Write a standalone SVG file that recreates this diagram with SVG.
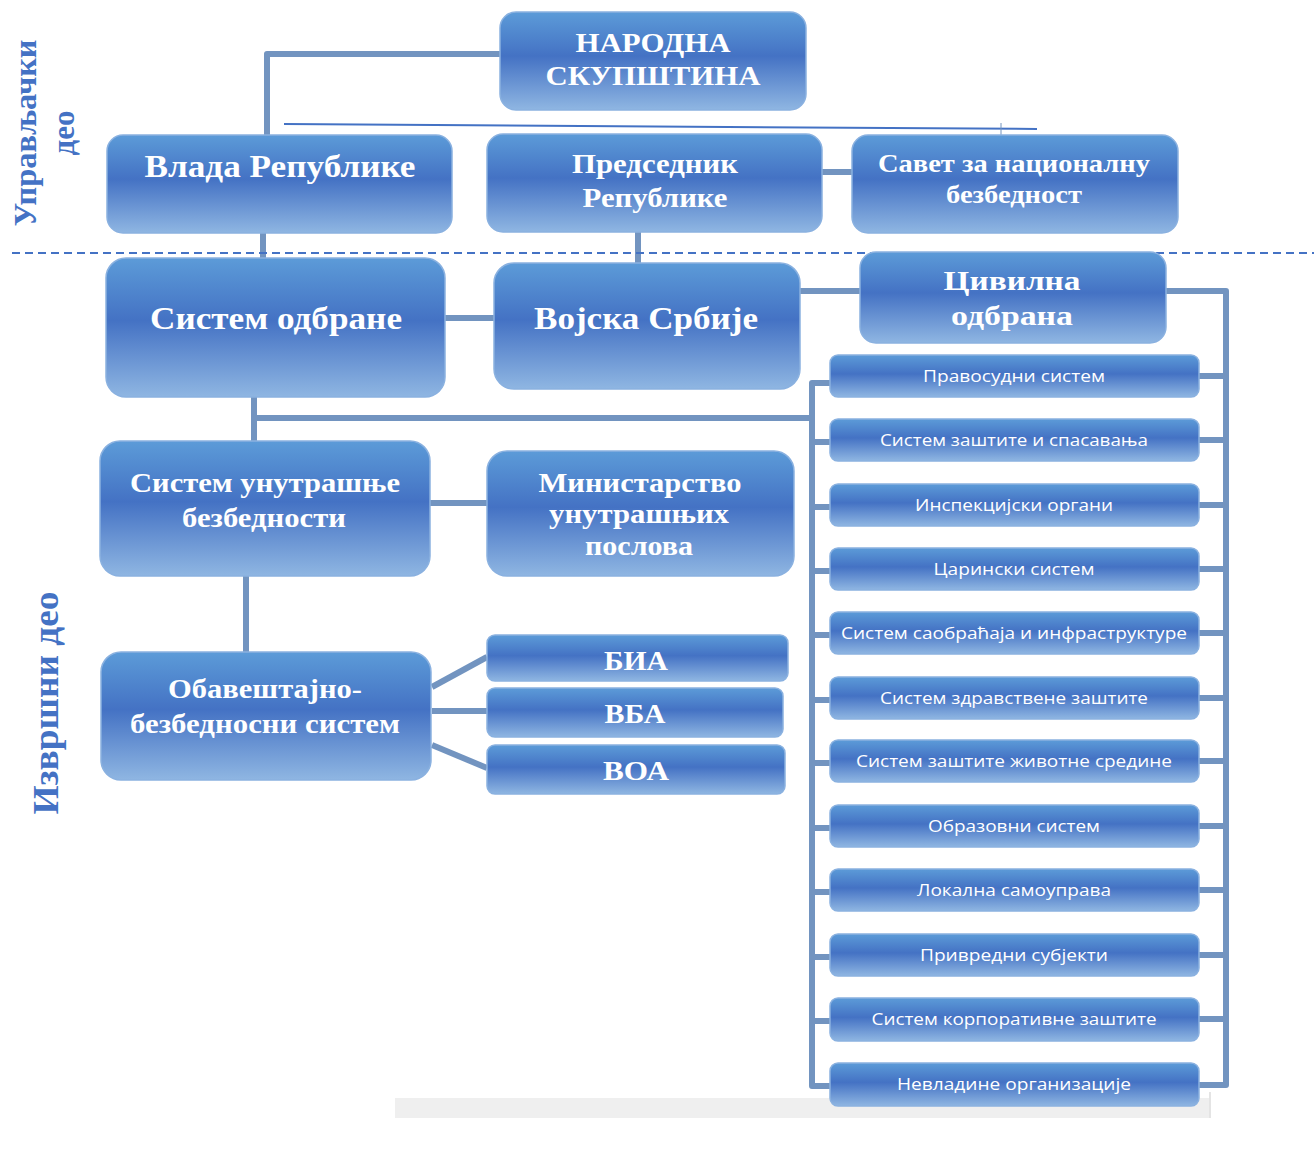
<svg xmlns="http://www.w3.org/2000/svg" width="1314" height="1162" viewBox="0 0 1314 1162">
<defs>
<linearGradient id="g" x1="0" y1="0" x2="0" y2="1">
<stop offset="0" stop-color="#5c9bd8"/>
<stop offset="0.45" stop-color="#4472c4"/>
<stop offset="1" stop-color="#8fb6e2"/>
</linearGradient>
<style>
.box{fill:url(#g);stroke:#8ab1e0;stroke-width:1.5}
.t{font-family:"Liberation Serif",serif;font-weight:bold;fill:#ffffff;text-anchor:middle}
.s{font-family:"Open Sans","Liberation Sans",sans-serif;font-size:17px;fill:#ffffff;text-anchor:middle}
.c{fill:none;stroke:#7294c0;stroke-width:6;stroke-linejoin:round}
.lab{font-family:"Liberation Serif",serif;font-weight:bold;fill:#4472c4;text-anchor:middle}
</style>
</defs>
<rect width="1314" height="1162" fill="#ffffff"/>
<rect x="395" y="1098" width="815" height="20" fill="#efefef"/>
<line x1="1210" y1="1092" x2="1210" y2="1118" stroke="#e4e4e4" stroke-width="2"/>

<g id="connectors">
<path class="c" d="M500,54 H267 V135"/>
<line x1="284" y1="124" x2="1037" y2="129" stroke="#4472c4" stroke-width="2"/>
<line x1="1001" y1="123" x2="1001" y2="135" stroke="#7294c0" stroke-width="1"/>
<path class="c" d="M822,172 H852"/>
<path class="c" d="M263,233 V258"/>
<path class="c" d="M638,232 V263"/>
<line x1="12" y1="253" x2="1314" y2="253" stroke="#4472c4" stroke-width="2" stroke-dasharray="8,5"/>
<path class="c" d="M445,318 H494"/>
<path class="c" d="M800,291 H860"/>
<path class="c" d="M254,397 V441"/>
<path class="c" d="M254,418 H812"/>
<path class="c" d="M830,383 H812 V1086 H830"/>
<path class="c" d="M830,442 H812 M830,507 H812 M830,571 H812 M830,635 H812 M830,700 H812 M830,763 H812 M830,828 H812 M830,892 H812 M830,957 H812 M830,1021 H812"/>
<path class="c" d="M1166,291 H1226 V1085 H1199"/>
<path class="c" d="M1199,376 H1226 M1199,440 H1226 M1199,505 H1226 M1199,569 H1226 M1199,633 H1226 M1199,698 H1226 M1199,761 H1226 M1199,826 H1226 M1199,890 H1226 M1199,955 H1226 M1199,1019 H1226"/>
<path class="c" d="M430,503 H487"/>
<path class="c" d="M246,576 V652"/>
<path class="c" d="M432,687 L487,657"/>
<path class="c" d="M432,711 H487"/>
<path class="c" d="M432,745 L487,768"/>
</g>

<g id="labels">
<text class="lab" font-size="31" transform="translate(36,133) rotate(-90)" textLength="187" lengthAdjust="spacingAndGlyphs">Управљачки</text>
<text class="lab" font-size="31" transform="translate(74,133) rotate(-90)" textLength="45" lengthAdjust="spacingAndGlyphs">део</text>
<text class="lab" font-size="36" transform="translate(58,703) rotate(-90)" textLength="223" lengthAdjust="spacingAndGlyphs">Извршни део</text>
</g>

<g id="n-skupstina">
<rect class="box" x="500" y="12" width="306" height="98" rx="16"/>
<text class="t" font-size="28" x="653" y="52" textLength="155" lengthAdjust="spacingAndGlyphs">НАРОДНА</text>
<text class="t" font-size="28" x="653" y="85" textLength="215" lengthAdjust="spacingAndGlyphs">СКУПШТИНА</text>
</g>
<g id="n-vlada">
<rect class="box" x="107" y="135" width="345" height="98" rx="16"/>
<text class="t" font-size="32" x="280" y="177" textLength="271" lengthAdjust="spacingAndGlyphs">Влада Републике</text>
</g>
<g id="n-predsednik">
<rect class="box" x="487" y="134" width="335" height="98" rx="16"/>
<text class="t" font-size="27" x="655" y="173" textLength="166" lengthAdjust="spacingAndGlyphs">Председник</text>
<text class="t" font-size="27" x="655" y="207" textLength="145" lengthAdjust="spacingAndGlyphs">Републике</text>
</g>
<g id="n-savet">
<rect class="box" x="852" y="135" width="326" height="98" rx="16"/>
<text class="t" font-size="25" x="1014" y="172" textLength="272" lengthAdjust="spacingAndGlyphs">Савет за националну</text>
<text class="t" font-size="25" x="1014" y="203" textLength="136" lengthAdjust="spacingAndGlyphs">безбедност</text>
</g>
<g id="n-sistem-odbrane">
<rect class="box" x="106" y="258" width="339" height="139" rx="20"/>
<text class="t" font-size="32" x="276" y="329" textLength="252" lengthAdjust="spacingAndGlyphs">Систем одбране</text>
</g>
<g id="n-vojska">
<rect class="box" x="494" y="263" width="306" height="126" rx="20"/>
<text class="t" font-size="32" x="646" y="329" textLength="224" lengthAdjust="spacingAndGlyphs">Војска Србије</text>
</g>
<g id="n-civilna">
<rect class="box" x="860" y="252" width="306" height="91" rx="16"/>
<text class="t" font-size="28" x="1012" y="290" textLength="137" lengthAdjust="spacingAndGlyphs">Цивилна</text>
<text class="t" font-size="28" x="1012" y="325" textLength="122" lengthAdjust="spacingAndGlyphs">одбрана</text>
</g>
<g id="n-unutrasnja">
<rect class="box" x="100" y="441" width="330" height="135" rx="20"/>
<text class="t" font-size="28" x="265" y="492" textLength="270" lengthAdjust="spacingAndGlyphs">Систем унутрашње</text>
<text class="t" font-size="28" x="264" y="527" textLength="164" lengthAdjust="spacingAndGlyphs">безбедности</text>
</g>
<g id="n-mup">
<rect class="box" x="487" y="451" width="307" height="125" rx="20"/>
<text class="t" font-size="28" x="640" y="492" textLength="203" lengthAdjust="spacingAndGlyphs">Министарство</text>
<text class="t" font-size="28" x="639" y="523" textLength="180" lengthAdjust="spacingAndGlyphs">унутрашњих</text>
<text class="t" font-size="28" x="639" y="555" textLength="108" lengthAdjust="spacingAndGlyphs">послова</text>
</g>
<g id="n-obavestajno">
<rect class="box" x="101" y="652" width="330" height="128" rx="20"/>
<text class="t" font-size="28" x="265" y="698" textLength="194" lengthAdjust="spacingAndGlyphs">Обавештајно-</text>
<text class="t" font-size="28" x="265" y="733" textLength="270" lengthAdjust="spacingAndGlyphs">безбедносни систем</text>
</g>
<g id="n-bia">
<rect class="box" x="487" y="635" width="301" height="46" rx="8"/>
<text class="t" font-size="27" x="636" y="670" textLength="64" lengthAdjust="spacingAndGlyphs">БИА</text>
</g>
<g id="n-vba">
<rect class="box" x="487" y="688" width="296" height="49" rx="8"/>
<text class="t" font-size="27" x="635" y="723" textLength="61" lengthAdjust="spacingAndGlyphs">ВБА</text>
</g>
<g id="n-voa">
<rect class="box" x="487" y="745" width="298" height="49" rx="8"/>
<text class="t" font-size="27" x="636" y="780" textLength="66" lengthAdjust="spacingAndGlyphs">ВОА</text>
</g>

<g id="n-pravosudni"><rect class="box" x="830" y="355" width="369" height="42" rx="8"/><text class="s" x="1014" y="382" textLength="182" lengthAdjust="spacingAndGlyphs">Правосудни систем</text></g>
<g id="n-zastita"><rect class="box" x="830" y="419" width="369" height="42" rx="8"/><text class="s" x="1014" y="446" textLength="268" lengthAdjust="spacingAndGlyphs">Систем заштите и спасавања</text></g>
<g id="n-inspekcija"><rect class="box" x="830" y="484" width="369" height="42" rx="8"/><text class="s" x="1014" y="511" textLength="198" lengthAdjust="spacingAndGlyphs">Инспекцијски органи</text></g>
<g id="n-carina"><rect class="box" x="830" y="548" width="369" height="42" rx="8"/><text class="s" x="1014" y="575" textLength="161" lengthAdjust="spacingAndGlyphs">Царински систем</text></g>
<g id="n-saobracaj"><rect class="box" x="830" y="612" width="369" height="42" rx="8"/><text class="s" x="1014" y="639" textLength="346" lengthAdjust="spacingAndGlyphs">Систем саобраћаја и инфраструктуре</text></g>
<g id="n-zdravstvo"><rect class="box" x="830" y="677" width="369" height="42" rx="8"/><text class="s" x="1014" y="704" textLength="268" lengthAdjust="spacingAndGlyphs">Систем здравствене заштите</text></g>
<g id="n-zivotna"><rect class="box" x="830" y="740" width="369" height="42" rx="8"/><text class="s" x="1014" y="767" textLength="316" lengthAdjust="spacingAndGlyphs">Систем заштите животне средине</text></g>
<g id="n-obrazovni"><rect class="box" x="830" y="805" width="369" height="42" rx="8"/><text class="s" x="1014" y="832" textLength="172" lengthAdjust="spacingAndGlyphs">Образовни систем</text></g>
<g id="n-lokalna"><rect class="box" x="830" y="869" width="369" height="42" rx="8"/><text class="s" x="1014" y="896" textLength="194" lengthAdjust="spacingAndGlyphs">Локална самоуправа</text></g>
<g id="n-privredni"><rect class="box" x="830" y="934" width="369" height="42" rx="8"/><text class="s" x="1014" y="961" textLength="188" lengthAdjust="spacingAndGlyphs">Привредни субјекти</text></g>
<g id="n-korporativna"><rect class="box" x="830" y="998" width="369" height="43" rx="8"/><text class="s" x="1014" y="1025" textLength="285" lengthAdjust="spacingAndGlyphs">Систем корпоративне заштите</text></g>
<g id="n-nevladine"><rect class="box" x="830" y="1063" width="369" height="43" rx="8"/><text class="s" x="1014" y="1090" textLength="234" lengthAdjust="spacingAndGlyphs">Невладине организације</text></g>
</svg>
